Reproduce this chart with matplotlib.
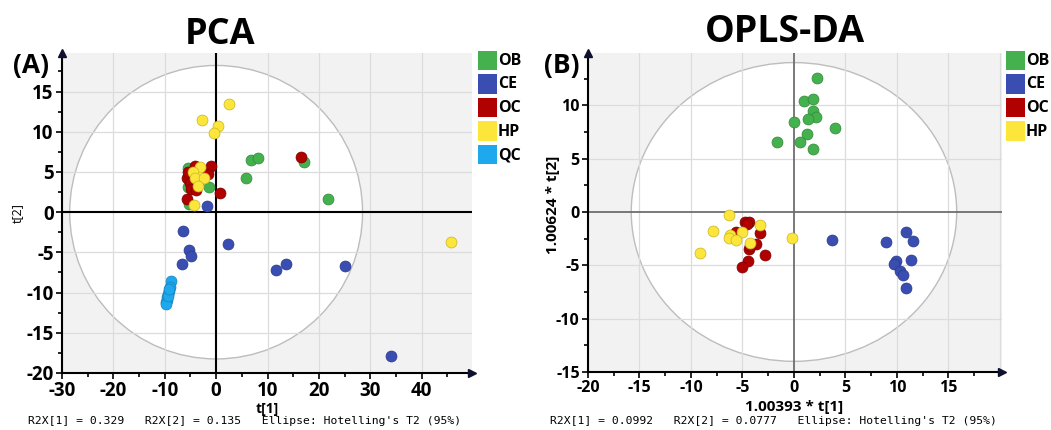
import matplotlib
matplotlib.use("Agg")
import matplotlib.pyplot as plt
from matplotlib.patches import Ellipse, Rectangle
from matplotlib.ticker import MultipleLocator
import numpy as np

plt.rcParams['font.family'] = ['Open Sans', 'DejaVu Sans']

# ---------------- data ----------------
groups = ["OB", "CE", "OC", "HP", "QC"]
colors = {"OB": "#45b04e", "CE": "#3a4db0", "OC": "#b00000", "HP": "#fce63c", "QC": "#1ea9ee"}
edges = {"OB": "#2f8a38", "CE": "#283a8c", "OC": "#7a0000", "HP": "#c9b41e", "QC": "#1682bb"}

# PCA scores (t[1], t[2])
pca_OB_x = [6.7, 8.1, 17.1, 5.8, 21.7, -1.3, -5.4, -5.4, -5.3, -5.2]
pca_OB_y = [6.5, 6.8, 6.25, 4.3, 1.6, 3.1, 5.5, 3.1, 1.0, 4.5]
pca_CE_x = [-6.5, 2.3, -5.3, -4.9, -6.7, 11.6, 13.6, 25.0, 34.1, -1.8]
pca_CE_y = [-2.4, -4.0, -4.7, -5.4, -6.4, -7.2, -6.4, -6.7, -17.9, 0.75]
pca_OC_x = [16.5, -1.0, -4.1, -1.6, -5.7, -5.1, -3.5, -4.8, 0.8, -5.6, -4.0, -5.5]
pca_OC_y = [6.9, 5.8, 5.8, 4.8, 4.3, 3.6, 3.8, 2.9, 2.4, 1.6, 2.8, 5.0]
pca_HP_x = [2.6, -2.8, 0.3, -0.5, -3.1, -4.6, -4.2, -2.3, -3.5, -4.4, 45.7]
pca_HP_y = [13.4, 11.5, 10.7, 9.85, 5.6, 5.0, 4.3, 4.3, 3.2, 0.9, -3.7]
pca_QC_x = [-8.7, -9.0, -9.2, -9.4, -9.6, -9.5, -9.8, -9.7, -9.3, -9.1]
pca_QC_y = [-8.5, -9.3, -9.8, -10.2, -10.6, -10.9, -11.2, -11.4, -10.4, -9.6]

# OPLS-DA scores (1.00393*t[1], 1.00624*t[2])
opls_OB_x = [2.2, 1.0, 1.8, 1.8, 2.1, 1.4, 0.05, 4.0, 1.3, -1.6, 0.55, 1.8]
opls_OB_y = [12.6, 10.4, 10.6, 9.5, 8.9, 8.7, 8.4, 7.9, 7.3, 6.6, 6.6, 5.9]
opls_CE_x = [3.7, 8.9, 10.9, 11.55, 9.9, 9.75, 11.35, 10.25, 10.6, 10.9]
opls_CE_y = [-2.6, -2.8, -1.9, -2.7, -4.6, -4.9, -4.5, -5.55, -5.95, -7.1]
opls_OC_x = [-4.8, -4.4, -4.6, -3.3, -3.7, -4.4, -2.8, -4.5, -5.0, -4.3, -5.6]
opls_OC_y = [-0.9, -0.9, -1.1, -2.0, -3.0, -3.5, -4.05, -4.55, -5.2, -3.2, -1.9]
opls_HP_x = [-6.3, -3.3, -7.9, -5.0, -6.2, -6.3, -5.6, -4.3, -0.2, -9.1]
opls_HP_y = [-0.25, -1.2, -1.8, -1.85, -2.2, -2.4, -2.6, -2.9, -2.4, -3.8]

# tick labels
pca_xticks = [-30, -20, -10, 0, 10, 20, 30, 40]
pca_yticks = [-20, -15, -10, -5, 0, 5, 10, 15]
opls_xticks = [-20, -15, -10, -5, 0, 5, 10, 15]
opls_yticks = [-15, -10, -5, 0, 5, 10]

pca_data = {"OB": (pca_OB_x, pca_OB_y), "CE": (pca_CE_x, pca_CE_y), "OC": (pca_OC_x, pca_OC_y),
            "HP": (pca_HP_x, pca_HP_y), "QC": (pca_QC_x, pca_QC_y)}
opls_data = {"OB": (opls_OB_x, opls_OB_y), "CE": (opls_CE_x, opls_CE_y), "OC": (opls_OC_x, opls_OC_y),
             "HP": (opls_HP_x, opls_HP_y)}

pca_ellipse = (28.5, 18.25)
opls_ellipse = (15.8, 14.0)

W, H = 1051, 430
fig = plt.figure(figsize=(W / 100, H / 100), dpi=100)


def fx(px):
    return px / W


def fy(py):
    return 1 - py / H


def make_panel(rect, data, xlim, ylim, ell, xt, yt, xmin, ymin, zero_col, zero_lw, tick_fs):
    ax = fig.add_axes(rect)
    ax.set_facecolor("#f2f2f2")
    ax.set_xlim(*xlim)
    ax.set_ylim(*ylim)
    e = Ellipse((0, 0), 2 * ell[0], 2 * ell[1], facecolor="white", edgecolor="#bdbdbd", lw=1.0, zorder=0.5)
    ax.add_patch(e)
    step_x = xt[1] - xt[0]
    step_y = yt[1] - yt[0]
    for v in np.arange(xt[0], xlim[1] + 1e-9, step_x):
        if v != 0:
            ax.axvline(v, color="#dcdcdc", lw=0.9, zorder=1)
    for v in np.arange(yt[0], ylim[1] + 1e-9, step_y):
        if v != 0:
            ax.axhline(v, color="#dcdcdc", lw=0.9, zorder=1)
    ax.axvline(0, color=zero_col, lw=zero_lw, zorder=1.5)
    ax.axhline(0, color=zero_col, lw=zero_lw, zorder=1.5)
    for g, (xs, ys) in data.items():
        ax.scatter(xs, ys, s=62, c=colors[g], edgecolors=edges[g], linewidths=0.5, zorder=3)
    ax.xaxis.set_minor_locator(MultipleLocator(xmin))
    ax.yaxis.set_minor_locator(MultipleLocator(ymin))
    ax.set_xticks(xt)
    ax.set_yticks(yt)
    ax.set_xticklabels([str(v) for v in xt])
    ax.set_yticklabels([str(v) for v in yt])
    for s in ["top", "right"]:
        ax.spines[s].set_visible(False)
    for s in ["left", "bottom"]:
        ax.spines[s].set_color("black")
        ax.spines[s].set_linewidth(1.5)
    ax.tick_params(which="both", direction="out", color="black", width=1.2)
    ax.tick_params(which="major", length=4, labelsize=tick_fs, pad=2)
    ax.tick_params(which="minor", length=3)
    for lab in ax.get_xticklabels() + ax.get_yticklabels():
        lab.set_fontweight("bold")
    ax.plot([0], [1], marker="^", color="#101030", ms=6, transform=ax.transAxes, clip_on=False, zorder=5)
    ax.plot([1], [0], marker=">", color="#101030", ms=6, transform=ax.transAxes, clip_on=False, zorder=5)
    return ax


ax1 = make_panel([fx(62), fy(373), fx(472) - fx(62), fy(53) - fy(373)], pca_data,
                 (-30, 49.8), (-20, 19.8), pca_ellipse, pca_xticks, pca_yticks, 5, 2.5, "black", 1.5, 13.5)
ax2 = make_panel([fx(588), fy(372), fx(1002) - fx(588), fy(53) - fy(372)], opls_data,
                 (-20, 20.2), (-15, 14.9), opls_ellipse, opls_xticks, opls_yticks, 2.5, 2.5, "#6e6e6e", 1.3, 11.5)

# titles and panel letters
fig.text(fx(220), fy(35), "PCA", fontsize=26, fontweight="bold", ha="center", va="center")
fig.text(fx(785), fy(32), "OPLS-DA", fontsize=27, fontweight="bold", ha="center", va="center")
fig.text(fx(31), fy(66), "(A)", fontsize=19, fontweight="bold", ha="center", va="center")
fig.text(fx(562), fy(66), "(B)", fontsize=19, fontweight="bold", ha="center", va="center")

# axis labels
fig.text(fx(267), fy(409), "t[1]", fontsize=10, fontweight="bold", ha="center", va="center")
fig.text(fx(17), fy(213), "t[2]", fontsize=9, rotation=90, ha="center", va="center")
fig.text(fx(794), fy(407), "1.00393 * t[1]", fontsize=11, fontweight="bold", ha="center", va="center")
fig.text(fx(553), fy(205), "1.00624 * t[2]", fontsize=11, fontweight="bold", rotation=90, ha="center", va="center")

# footers
fig.text(fx(28), fy(421), "R2X[1] = 0.329   R2X[2] = 0.135   Ellipse: Hotelling's T2 (95%)",
         fontsize=8.2, family="DejaVu Sans Mono", ha="left", va="center")
fig.text(fx(550), fy(421), "R2X[1] = 0.0992   R2X[2] = 0.0777   Ellipse: Hotelling's T2 (95%)",
         fontsize=8.2, family="DejaVu Sans Mono", ha="left", va="center")


def legend(x0, names):
    for i, g in enumerate(names):
        top = 51 + i * 23.5
        fig.add_artist(Rectangle((fx(x0), fy(top + 19)), 19 / W, 19 / H, transform=fig.transFigure,
                                 facecolor=colors[g], edgecolor="none"))
        fig.text(fx(x0 + 20), fy(top + 10), g, fontsize=11.5, fontweight="bold", ha="left", va="center")


legend(478, groups)
legend(1006, groups[:4])

fig.savefig("out.png", dpi=100)
